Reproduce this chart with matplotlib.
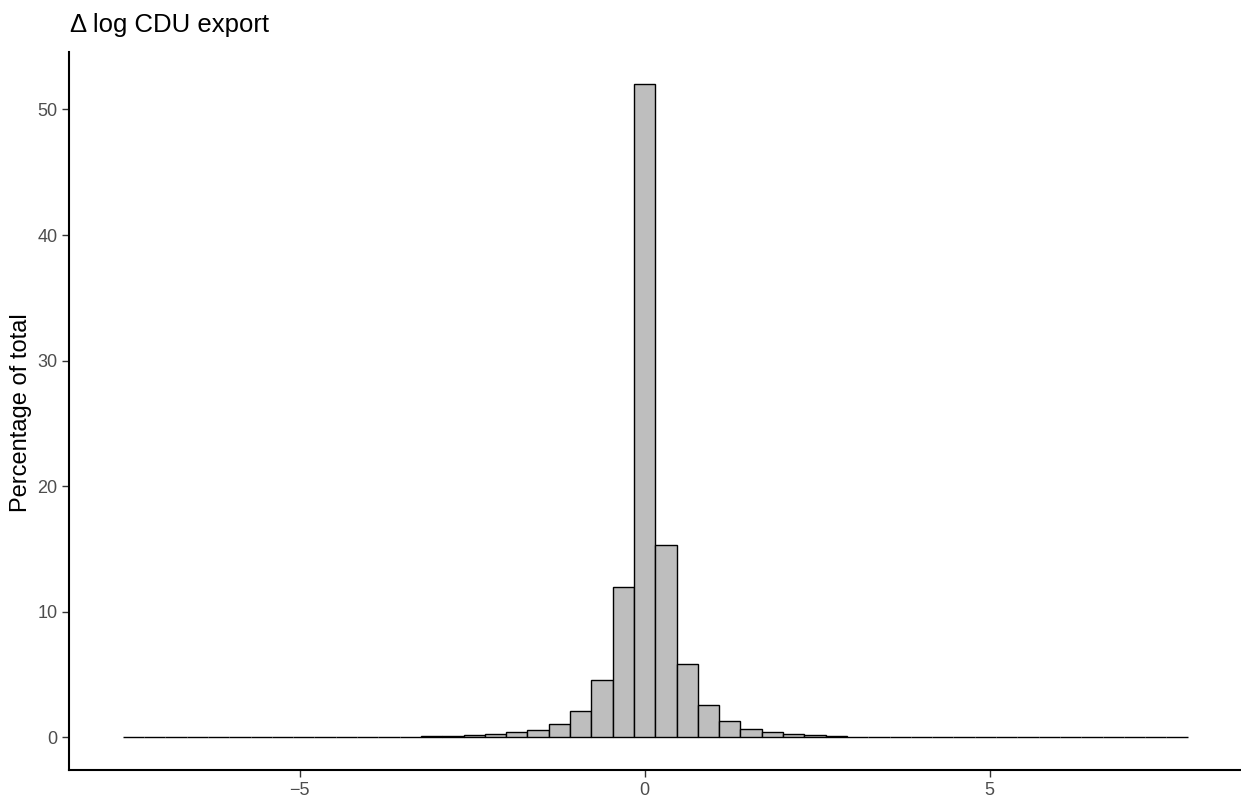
import numpy as np
import matplotlib
matplotlib.use("Agg")
import matplotlib.pyplot as plt

# histogram of delta log CDU export, 50 bins, percentage of total
bin_start = -7.563
bin_width = 0.3087
pct = [0.01, 0, 0, 0, 0.01, 0.01, 0.01, 0.01, 0.01, 0.02,
       0.02, 0.03, 0.04, 0.05, 0.08, 0.13, 0.2, 0.28, 0.4, 0.62,
       1.1, 2.1, 4.6, 12.0, 52.0, 15.3, 5.85, 2.6, 1.3, 0.7,
       0.44, 0.28, 0.18, 0.1, 0.06, 0.04, 0.03, 0.03, 0.02, 0.02,
       0.01, 0.01, 0.01, 0.01, 0.01, 0.01, 0, 0, 0, 0]
x_ticks = [-5, 0, 5]
y_ticks = [0, 10, 20, 30, 40, 50]

plt.rcParams['font.family'] = ['Liberation Sans', 'DejaVu Sans']

edges = bin_start + bin_width * np.arange(len(pct) + 1)

fig = plt.figure(figsize=(12.41, 7.99), dpi=100)
ax = fig.add_axes([0.056, 0.0363, 0.944, 0.899])

ax.bar(edges[:-1], pct, width=bin_width, align='edge',
       color='#BEBEBE', edgecolor='black', linewidth=1.0)

lo, hi = edges[0], edges[-1]
pad = (hi - lo) * 0.05
ax.set_xlim(lo - pad, hi + pad)
ax.set_ylim(-max(pct) * 0.05, max(pct) * 1.05)

ax.set_xticks(x_ticks)
ax.set_yticks(y_ticks)
ax.tick_params(axis='both', colors='#333333', labelcolor='#4D4D4D',
               labelsize=13, length=5, width=1.0)
for s in ['top', 'right']:
    ax.spines[s].set_visible(False)
for s in ['left', 'bottom']:
    ax.spines[s].set_linewidth(1.5)

fig.text(70 / 1241, 1 - 32 / 799, '\u0394 log CDU export',
         fontsize=18.5, va='baseline', ha='left')
fig.text(21 / 1241, 1 - 413 / 799, 'Percentage of total',
         fontsize=17, rotation=90, va='center', ha='center')

fig.savefig('out.png', dpi=100)
